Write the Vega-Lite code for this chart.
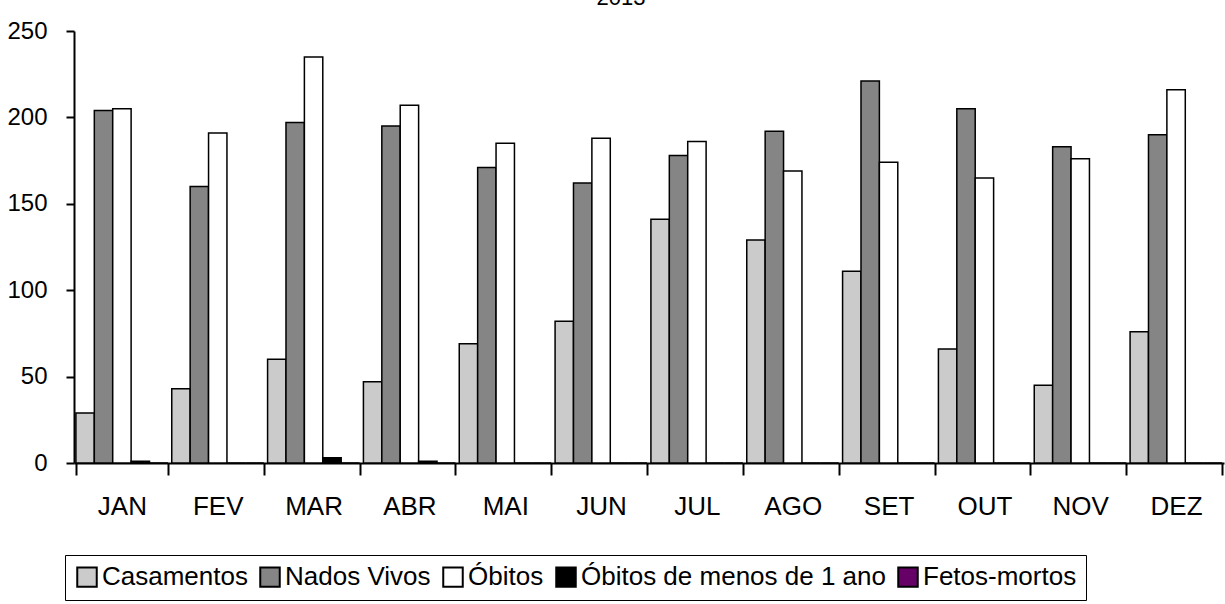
{
  "$schema": "https://vega.github.io/schema/vega-lite/v6.json",
  "autosize": {"type": "none"},
  "width": 1150,
  "height": 432,
  "padding": {"left": 74, "top": 31, "right": 1, "bottom": 141},
  "background": "white",
  "title": {
    "text": "2013",
    "fontSize": 22,
    "font": "Liberation Sans",
    "fontWeight": "normal",
    "color": "black",
    "anchor": "middle",
    "offset": 9,
    "dx": -28
  },
  "data": {
    "values": [
      {"mes": "JAN", "serie": "Casamentos", "valor": 29},
      {"mes": "JAN", "serie": "Nados Vivos", "valor": 204},
      {"mes": "JAN", "serie": "Óbitos", "valor": 205},
      {"mes": "JAN", "serie": "Óbitos de menos de 1 ano", "valor": 1},
      {"mes": "JAN", "serie": "Fetos-mortos", "valor": 0},
      {"mes": "FEV", "serie": "Casamentos", "valor": 43},
      {"mes": "FEV", "serie": "Nados Vivos", "valor": 160},
      {"mes": "FEV", "serie": "Óbitos", "valor": 191},
      {"mes": "FEV", "serie": "Óbitos de menos de 1 ano", "valor": 0},
      {"mes": "FEV", "serie": "Fetos-mortos", "valor": 0},
      {"mes": "MAR", "serie": "Casamentos", "valor": 60},
      {"mes": "MAR", "serie": "Nados Vivos", "valor": 197},
      {"mes": "MAR", "serie": "Óbitos", "valor": 235},
      {"mes": "MAR", "serie": "Óbitos de menos de 1 ano", "valor": 3},
      {"mes": "MAR", "serie": "Fetos-mortos", "valor": 0},
      {"mes": "ABR", "serie": "Casamentos", "valor": 47},
      {"mes": "ABR", "serie": "Nados Vivos", "valor": 195},
      {"mes": "ABR", "serie": "Óbitos", "valor": 207},
      {"mes": "ABR", "serie": "Óbitos de menos de 1 ano", "valor": 1},
      {"mes": "ABR", "serie": "Fetos-mortos", "valor": 0},
      {"mes": "MAI", "serie": "Casamentos", "valor": 69},
      {"mes": "MAI", "serie": "Nados Vivos", "valor": 171},
      {"mes": "MAI", "serie": "Óbitos", "valor": 185},
      {"mes": "MAI", "serie": "Óbitos de menos de 1 ano", "valor": 0},
      {"mes": "MAI", "serie": "Fetos-mortos", "valor": 0},
      {"mes": "JUN", "serie": "Casamentos", "valor": 82},
      {"mes": "JUN", "serie": "Nados Vivos", "valor": 162},
      {"mes": "JUN", "serie": "Óbitos", "valor": 188},
      {"mes": "JUN", "serie": "Óbitos de menos de 1 ano", "valor": 0},
      {"mes": "JUN", "serie": "Fetos-mortos", "valor": 0},
      {"mes": "JUL", "serie": "Casamentos", "valor": 141},
      {"mes": "JUL", "serie": "Nados Vivos", "valor": 178},
      {"mes": "JUL", "serie": "Óbitos", "valor": 186},
      {"mes": "JUL", "serie": "Óbitos de menos de 1 ano", "valor": 0},
      {"mes": "JUL", "serie": "Fetos-mortos", "valor": 0},
      {"mes": "AGO", "serie": "Casamentos", "valor": 129},
      {"mes": "AGO", "serie": "Nados Vivos", "valor": 192},
      {"mes": "AGO", "serie": "Óbitos", "valor": 169},
      {"mes": "AGO", "serie": "Óbitos de menos de 1 ano", "valor": 0},
      {"mes": "AGO", "serie": "Fetos-mortos", "valor": 0},
      {"mes": "SET", "serie": "Casamentos", "valor": 111},
      {"mes": "SET", "serie": "Nados Vivos", "valor": 221},
      {"mes": "SET", "serie": "Óbitos", "valor": 174},
      {"mes": "SET", "serie": "Óbitos de menos de 1 ano", "valor": 0},
      {"mes": "SET", "serie": "Fetos-mortos", "valor": 0},
      {"mes": "OUT", "serie": "Casamentos", "valor": 66},
      {"mes": "OUT", "serie": "Nados Vivos", "valor": 205},
      {"mes": "OUT", "serie": "Óbitos", "valor": 165},
      {"mes": "OUT", "serie": "Óbitos de menos de 1 ano", "valor": 0},
      {"mes": "OUT", "serie": "Fetos-mortos", "valor": 0},
      {"mes": "NOV", "serie": "Casamentos", "valor": 45},
      {"mes": "NOV", "serie": "Nados Vivos", "valor": 183},
      {"mes": "NOV", "serie": "Óbitos", "valor": 176},
      {"mes": "NOV", "serie": "Óbitos de menos de 1 ano", "valor": 0},
      {"mes": "NOV", "serie": "Fetos-mortos", "valor": 0},
      {"mes": "DEZ", "serie": "Casamentos", "valor": 76},
      {"mes": "DEZ", "serie": "Nados Vivos", "valor": 190},
      {"mes": "DEZ", "serie": "Óbitos", "valor": 216},
      {"mes": "DEZ", "serie": "Óbitos de menos de 1 ano", "valor": 0},
      {"mes": "DEZ", "serie": "Fetos-mortos", "valor": 0}
    ]
  },
  "mark": {"type": "bar", "stroke": "black", "strokeWidth": 1.5},
  "encoding": {
    "x": {
      "field": "mes",
      "type": "nominal",
      "sort": ["JAN", "FEV", "MAR", "ABR", "MAI", "JUN", "JUL", "AGO", "SET", "OUT", "NOV", "DEZ"],
      "scale": {"paddingInner": 0.04, "paddingOuter": 0.02},
      "axis": {
        "title": null,
        "labelAngle": 0,
        "labelFont": "Liberation Sans",
        "labelFontSize": 26,
        "labelColor": "black",
        "labelPadding": 18,
        "tickBand": "extent",
        "tickSize": 12,
        "tickWidth": 2,
        "tickColor": "black",
        "domainColor": "black",
        "domainWidth": 2
      }
    },
    "xOffset": {
      "field": "serie",
      "type": "nominal",
      "sort": ["Casamentos", "Nados Vivos", "Óbitos", "Óbitos de menos de 1 ano", "Fetos-mortos"],
      "scale": {"paddingInner": 0, "paddingOuter": 0}
    },
    "y": {
      "field": "valor",
      "type": "quantitative",
      "scale": {"domain": [0, 250], "nice": false},
      "axis": {
        "title": null,
        "values": [0, 50, 100, 150, 200, 250],
        "grid": false,
        "labelFont": "Liberation Sans",
        "labelFontSize": 24,
        "labelColor": "black",
        "labelPadding": 19,
        "tickSize": 8,
        "tickWidth": 2,
        "tickColor": "black",
        "domainColor": "black",
        "domainWidth": 2
      }
    },
    "color": {
      "field": "serie",
      "type": "nominal",
      "sort": ["Casamentos", "Nados Vivos", "Óbitos", "Óbitos de menos de 1 ano", "Fetos-mortos"],
      "scale": {
        "domain": ["Casamentos", "Nados Vivos", "Óbitos", "Óbitos de menos de 1 ano", "Fetos-mortos"],
        "range": ["#cbcbcb", "#858585", "#ffffff", "#000000", "#660066"]
      },
      "legend": {
        "title": null,
        "orient": "none",
        "legendX": -9,
        "legendY": 524,
        "direction": "horizontal",
        "columns": 5,
        "symbolType": "square",
        "symbolSize": 380,
        "symbolStrokeColor": "black",
        "symbolStrokeWidth": 2,
        "symbolOpacity": 1,
        "labelFont": "Liberation Sans",
        "labelFontSize": 26,
        "labelColor": "black",
        "labelOffset": 2,
        "labelLimit": 600,
        "columnPadding": 8,
        "padding": 9,
        "strokeColor": "black",
        "fillColor": "white"
      }
    }
  },
  "config": {
    "view": {"stroke": null},
    "font": "Liberation Sans"
  }
}
